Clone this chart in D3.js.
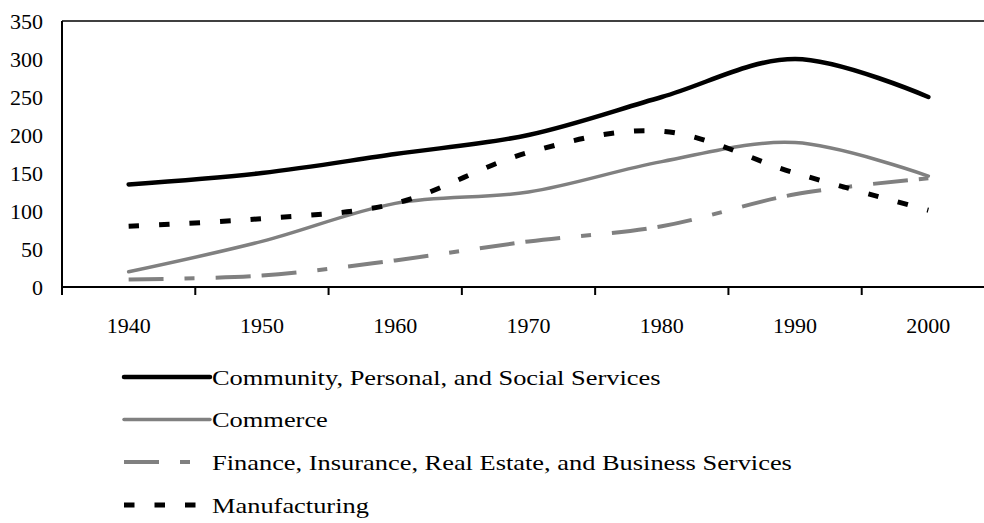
<!DOCTYPE html>
<html>
<head>
<meta charset="utf-8">
<script src="https://cdn.jsdelivr.net/npm/d3@7"></script>
<style>
  body { margin: 0; background: #fff; }
  text { font-family: "Liberation Serif", "DejaVu Serif", serif; fill: #000; }
</style>
</head>
<body>
<div id="chart"></div>
<script>
// values
const years = [1940, 1950, 1960, 1970, 1980, 1990, 2000];
const community = [135, 150, 175, 200, 250, 300, 250];
const commerce = [20, 60, 110, 125, 165, 190, 146];
const finance = [10, 15, 35, 60, 80, 122, 143];
const manufacturing = [80, 90, 110, 177, 205, 150, 101];
const yTicks = [0, 50, 100, 150, 200, 250, 300, 350];

const seriesNames = [
  "Community, Personal, and Social Services",
  "Commerce",
  "Finance, Insurance, Real Estate, and Business Services",
  "Manufacturing"
];

const width = 984, height = 523;
const plot = {left: 62, right: 995, top: 21, bottom: 287};

const svg = d3.select("#chart").append("svg")
  .attr("width", width)
  .attr("height", height);

const x = d3.scaleBand().domain(years).range([plot.left, plot.right]);
const y = d3.scaleLinear().domain([0, 350]).range([plot.bottom, plot.top]);
const cx = d => x(d) + x.bandwidth() / 2;

// styles for each series (same order as seriesNames)
const styles = [
  {data: community, color: "#000", w: 4.5, dash: null},
  {data: commerce, color: "#808080", w: 3.5, dash: null},
  {data: finance, color: "#808080", w: 4, dash: "35,21,10,21,35,11"},
  {data: manufacturing, color: "#000", w: 5, dash: "10.5,20"}
];

// frame: top line, left axis, bottom axis
svg.append("line")
  .attr("x1", plot.left).attr("x2", plot.right)
  .attr("y1", plot.top).attr("y2", plot.top)
  .attr("stroke", "#000").attr("stroke-width", 1.5);

svg.append("line")
  .attr("x1", plot.left).attr("x2", plot.left)
  .attr("y1", plot.top).attr("y2", plot.bottom)
  .attr("stroke", "#000").attr("stroke-width", 2);

// y labels (no tick marks in the reference)
svg.selectAll(".ylab")
  .data(yTicks)
  .enter()
  .append("text")
  .attr("class", "ylab")
  .attr("x", 43)
  .attr("y", d => y(d))
  .attr("dy", "0.35em")
  .attr("text-anchor", "end")
  .style("font-size", "22px")
  .text(d => d);

// x axis: ticks sit on the band edges, labels in the middle
const xAxis = svg.append("g");
xAxis.append("line")
  .attr("x1", plot.left).attr("x2", plot.right)
  .attr("y1", plot.bottom).attr("y2", plot.bottom)
  .attr("stroke", "#000").attr("stroke-width", 2);

const edges = years.map(d => x(d)).concat([x(years[years.length - 1]) + x.bandwidth()]);
xAxis.selectAll(".tick")
  .data(edges)
  .enter()
  .append("line")
  .attr("x1", d => d).attr("x2", d => d)
  .attr("y1", plot.bottom).attr("y2", plot.bottom + 8)
  .attr("stroke", "#000").attr("stroke-width", 2);

xAxis.selectAll(".xlab")
  .data(years)
  .enter()
  .append("text")
  .attr("x", d => cx(d))
  .attr("y", 325)
  .attr("dy", "0.35em")
  .attr("text-anchor", "middle")
  .style("font-size", "22px")
  .text(d => d);

// smoothed lines, Excel style
const line = d3.line()
  .x((d, i) => cx(years[i]))
  .y(d => y(d))
  .curve(d3.curveCardinal.tension(0));

svg.selectAll(".series")
  .data(styles)
  .enter()
  .append("path")
  .attr("d", s => line(s.data))
  .attr("fill", "none")
  .attr("stroke", s => s.color)
  .attr("stroke-width", s => s.w)
  .attr("stroke-linecap", s => s.dash ? "butt" : "round")
  .attr("stroke-dasharray", s => s.dash);

// legend: key samples all the same length, text starts at one x
const legendRowY = [377, 419.5, 462, 505];

const legend = svg.append("g");
styles.forEach((s, i) => {
  legend.append("line")
    .attr("x1", 124).attr("x2", 210)
    .attr("y1", legendRowY[i]).attr("y2", legendRowY[i])
    .attr("stroke", s.color)
    .attr("stroke-width", s.w)
    .attr("stroke-linecap", s.dash ? "butt" : "round")
    .attr("stroke-dasharray", s.dash);
  let t = legend.append("text")
    .attr("x", 212)
    .attr("y", legendRowY[i])
    .attr("dy", "0.35em")
    .style("font-size", "22px")
    .text(seriesNames[i]);
  // the original face is wider than Times, stretch a little
  let w = t.node().getComputedTextLength();
  t.attr("textLength", w * 1.2).attr("lengthAdjust", "spacingAndGlyphs");
});
</script>
</body>
</html>
